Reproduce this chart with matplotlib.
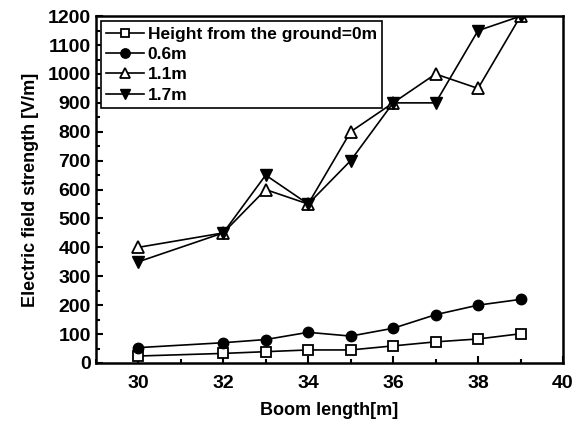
import matplotlib
matplotlib.use('Agg')
import matplotlib.pyplot as plt
from matplotlib.ticker import MultipleLocator

plt.rcParams['font.family'] = 'Liberation Sans'
plt.rcParams['font.weight'] = 'bold'

# boom length [m]
boom = [30, 32, 33, 34, 35, 36, 37, 38, 39]
# electric field strength [V/m] for each height from the ground
h0 = [24, 33, 39, 45, 45, 59, 73, 83, 101]
h06 = [53, 70, 81, 106, 93, 120, 167, 200, 220]
h11 = [400, 450, 600, 550, 800, 900, 1000, 950, 1200]
h17 = [350, 450, 650, 550, 700, 900, 900, 1150, 1200]

labels = ['Height from the ground=0m', '0.6m', '1.1m', '1.7m']

fig = plt.figure(figsize=(5.84, 4.26), dpi=100)
ax = fig.add_axes([0.164, 0.148, 0.8, 0.814])

ax.plot(boom, h0, color='k', lw=1.2, marker='s', ms=6.5, mfc='white', mec='k', mew=1.3, label=labels[0])
ax.plot(boom, h06, color='k', lw=1.2, marker='o', ms=7.5, mfc='k', mec='k', label=labels[1])
ax.plot(boom, h11, color='k', lw=1.2, marker='^', ms=8.5, mfc='white', mec='k', mew=1.3, label=labels[2])
ax.plot(boom, h17, color='k', lw=1.2, marker='v', ms=8.5, mfc='k', mec='k', label=labels[3])

ax.set_xlim(29, 40)
ax.set_ylim(0, 1200)
ax.xaxis.set_major_locator(MultipleLocator(2))
ax.xaxis.set_minor_locator(MultipleLocator(1))
ax.yaxis.set_major_locator(MultipleLocator(100))
ax.yaxis.set_minor_locator(MultipleLocator(50))
ax.tick_params(which='both', direction='in', labelsize=14, width=1.5)
ax.tick_params(axis='x', pad=9)
ax.tick_params(which='major', length=5)
ax.tick_params(which='minor', length=3)
for s in ax.spines.values():
    s.set_linewidth(1.8)

ax.set_xlabel('Boom length[m]', fontsize=13, fontweight='bold', labelpad=7)
ax.set_ylabel('Electric field strength [V/m]', fontsize=13, fontweight='bold', labelpad=6)

leg = ax.legend(loc='upper left', fontsize=12.5, frameon=True, fancybox=False,
                edgecolor='k', framealpha=1, handlelength=2.2, handletextpad=0.2,
                borderpad=0.3, labelspacing=0.3, borderaxespad=0.3, markerscale=0.9)
leg.get_frame().set_linewidth(1.2)

fig.savefig('out.png', dpi=100)
